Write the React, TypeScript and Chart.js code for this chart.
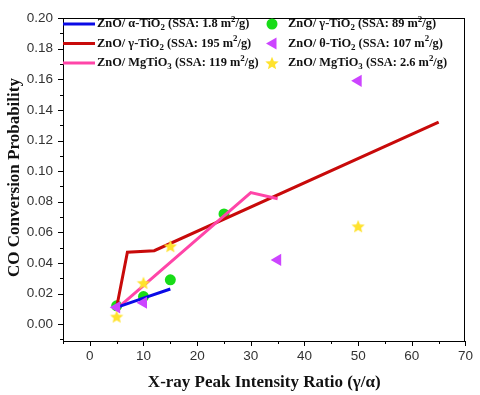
import React, { useEffect, useRef } from 'react';
import { Chart, registerables } from 'chart.js';

Chart.register(...registerables);

// ---- axis ticks ----
const X_TICKS = [0, 10, 20, 30, 40, 50, 60, 70];
const Y_TICKS = [0, 0.02, 0.04, 0.06, 0.08, 0.1, 0.12, 0.14, 0.16, 0.18, 0.2];
const X_MIN = -5;
const X_MAX = 70;
const Y_MIN = -0.011;
const Y_MAX = 0.2;

const X_TITLE = 'X-ray Peak Intensity Ratio (γ/α)';
const Y_TITLE = 'CO Conversion Probability';

// ---- series (line) ----
const alphaX = [5, 10, 15];
const alphaY = [0.011, 0.017, 0.023];
const gamma195X = [5, 7, 12, 65];
const gamma195Y = [0.011, 0.047, 0.048, 0.132];
const mg119X = [5, 30, 35];
const mg119Y = [0.010, 0.086, 0.082];

// ---- series (scatter) ----
const gamma89X = [5, 10, 15, 25];
const gamma89Y = [0.012, 0.018, 0.029, 0.072];
const theta107X = [5, 10, 35, 50];
const theta107Y = [0.011, 0.014, 0.042, 0.159];
const mg26X = [5, 10, 15, 50];
const mg26Y = [0.005, 0.027, 0.051, 0.064];

// ---- legend labels (rich: _{sub}, ^{sup}) ----
const LABELS = [
  'ZnO/ α-TiO_{2} (SSA: 1.8 m^{2}/g)',
  'ZnO/ γ-TiO_{2} (SSA: 195 m^{2}/g)',
  'ZnO/ MgTiO_{3} (SSA: 119 m^{2}/g)',
  'ZnO/ γ-TiO_{2} (SSA: 89 m^{2}/g)',
  'ZnO/ θ-TiO_{2} (SSA: 107 m^{2}/g)',
  'ZnO/ MgTiO_{3} (SSA: 2.6 m^{2}/g)',
];

const BLUE = '#0a0ae6';
const RED = '#c80a0a';
const PINK = '#ff45a8';
const GREEN = '#18dc18';
const PURPLE = '#cc44ff';
const YELLOW = '#ffe22e';

const zip = (xs: number[], ys: number[]) => xs.map((x, i) => ({ x, y: ys[i] }));

function starPath(ctx: CanvasRenderingContext2D, cx: number, cy: number, r: number) {
  const inner = r * 0.45;
  ctx.beginPath();
  for (let i = 0; i < 10; i++) {
    const rr = i % 2 === 0 ? r : inner;
    const a = -Math.PI / 2 + (i * Math.PI) / 5;
    const px = cx + Math.cos(a) * rr;
    const py = cy + Math.sin(a) * rr;
    if (i === 0) ctx.moveTo(px, py);
    else ctx.lineTo(px, py);
  }
  ctx.closePath();
}

function makeStar(r: number, color: string) {
  const c = document.createElement('canvas');
  c.width = c.height = Math.ceil(2 * r + 2);
  const ctx = c.getContext('2d')!;
  starPath(ctx, c.width / 2, c.height / 2 + r * 0.1, r);
  ctx.fillStyle = color;
  ctx.fill();
  return c;
}

function drawRich(ctx: CanvasRenderingContext2D, text: string, x: number, y: number, size: number) {
  const parts = text.split(/(_\{[^}]*\}|\^\{[^}]*\})/).filter(Boolean);
  let cx = x;
  for (const p of parts) {
    let t = p;
    let s = size;
    let dy = 0;
    if (p.startsWith('_{')) {
      t = p.slice(2, -1);
      s = size * 0.72;
      dy = size * 0.32;
    } else if (p.startsWith('^{')) {
      t = p.slice(2, -1);
      s = size * 0.72;
      dy = -size * 0.35;
    }
    ctx.font = `bold ${s}px "Liberation Serif", "DejaVu Serif", serif`;
    ctx.fillText(t, cx, y + dy);
    cx += ctx.measureText(t).width;
  }
}

const decorPlugin = {
  id: 'decor',
  afterDraw(chart: any) {
    const { ctx, chartArea: a, scales } = chart;
    const xs = scales.x;
    const ys = scales.y;
    ctx.save();
    // frame
    ctx.strokeStyle = '#000';
    ctx.lineWidth = 1;
    ctx.strokeRect(Math.round(a.left) + 0.5, Math.round(a.top) + 0.5, Math.round(a.right - a.left) - 1, Math.round(a.bottom - a.top));
    // ticks x
    ctx.beginPath();
    for (let k = -1; k <= 14; k++) {
      const v = k * 5;
      const px = Math.round(xs.getPixelForValue(v)) + 0.5;
      const len = k % 2 === 0 ? 5 : 3;
      ctx.moveTo(px, a.bottom);
      ctx.lineTo(px, a.bottom + len);
    }
    // ticks y
    for (let k = -1; k <= 20; k++) {
      const v = k / 100;
      const py = Math.round(ys.getPixelForValue(v)) + 0.5;
      const len = k % 2 === 0 ? 5 : 3;
      ctx.moveTo(a.left, py);
      ctx.lineTo(a.left - len, py);
    }
    ctx.stroke();

    // axis titles
    ctx.fillStyle = '#111';
    ctx.font = 'bold 17px "Liberation Serif", serif';
    ctx.textAlign = 'center';
    ctx.textBaseline = 'middle';
    ctx.fillText(X_TITLE, (a.left + a.right) / 2, 383);
    ctx.save();
    ctx.translate(15, (a.top + a.bottom) / 2 - 2);
    ctx.rotate(-Math.PI / 2);
    ctx.fillText(Y_TITLE, 0, 0);
    ctx.restore();

    // legend
    ctx.textAlign = 'left';
    ctx.textBaseline = 'middle';
    const rows = [24, 43.5, 63];
    const lineColors = [BLUE, RED, PINK];
    for (let i = 0; i < 3; i++) {
      ctx.strokeStyle = lineColors[i];
      ctx.lineWidth = 3;
      ctx.beginPath();
      ctx.moveTo(a.left, rows[i]);
      ctx.lineTo(a.left + 32, rows[i]);
      ctx.stroke();
      ctx.fillStyle = '#111';
      drawRich(ctx, LABELS[i], a.left + 34, rows[i], 12.4);
    }
    const mx = 272;
    // circle
    ctx.fillStyle = GREEN;
    ctx.beginPath();
    ctx.arc(mx, rows[0], 5.5, 0, Math.PI * 2);
    ctx.fill();
    // triangle left
    ctx.fillStyle = PURPLE;
    ctx.beginPath();
    ctx.moveTo(mx - 6, rows[1]);
    ctx.lineTo(mx + 4.5, rows[1] - 6);
    ctx.lineTo(mx + 4.5, rows[1] + 6);
    ctx.closePath();
    ctx.fill();
    // star
    ctx.fillStyle = YELLOW;
    starPath(ctx, mx, rows[2] + 0.7, 7);
    ctx.fill();
    ctx.fillStyle = '#111';
    for (let i = 3; i < 6; i++) {
      drawRich(ctx, LABELS[i], 288, rows[i - 3], 12.4);
    }
    ctx.restore();
  },
};

export default function App() {
  const ref = useRef<HTMLCanvasElement>(null);
  useEffect(() => {
    const starImg = makeStar(7, YELLOW);
    const chart = new Chart(ref.current!, {
      type: 'scatter',
      data: {
        datasets: [
          { label: 'ZnO/ α-TiO2 (SSA: 1.8 m2/g)', data: zip(alphaX, alphaY), showLine: true, borderColor: BLUE, borderWidth: 3, pointRadius: 0, order: 2 },
          { label: 'ZnO/ γ-TiO2 (SSA: 195 m2/g)', data: zip(gamma195X, gamma195Y), showLine: true, borderColor: RED, borderWidth: 3, pointRadius: 0, order: 3 },
          { label: 'ZnO/ MgTiO3 (SSA: 119 m2/g)', data: zip(mg119X, mg119Y), showLine: true, borderColor: PINK, borderWidth: 3, pointRadius: 0, order: 2 },
          { label: 'ZnO/ γ-TiO2 (SSA: 89 m2/g)', data: zip(gamma89X, gamma89Y), backgroundColor: GREEN, borderWidth: 0, pointRadius: 5.5, pointStyle: 'circle', order: 4 },
          { label: 'ZnO/ θ-TiO2 (SSA: 107 m2/g)', data: zip(theta107X, theta107Y), backgroundColor: PURPLE, borderWidth: 0, pointRadius: 7, pointStyle: 'triangle', rotation: -90, order: 1 },
          { label: 'ZnO/ MgTiO3 (SSA: 2.6 m2/g)', data: zip(mg26X, mg26Y), pointStyle: starImg as any, pointRadius: 7, order: 1 },
        ] as any,
      },
      options: {
        responsive: false,
        animation: false,
        devicePixelRatio: 1,
        layout: { padding: { left: 0, top: 14, right: 12, bottom: 0 } },
        plugins: { legend: { display: false }, tooltip: { enabled: false } },
        scales: {
          x: {
            type: 'linear',
            min: X_MIN,
            max: X_MAX,
            grid: { display: false, drawTicks: false },
            border: { display: false },
            ticks: { padding: 7, color: '#333', font: { family: '"Liberation Sans", Arial, sans-serif', size: 13.5 } },
            afterBuildTicks: (s: any) => { s.ticks = X_TICKS.map((value) => ({ value })); },
            afterFit: (s: any) => { s.height = 54; },
          },
          y: {
            type: 'linear',
            min: Y_MIN,
            max: Y_MAX,
            grid: { display: false, drawTicks: false },
            border: { display: false },
            ticks: {
              padding: 10,
              color: '#333',
              font: { family: '"Liberation Sans", Arial, sans-serif', size: 13.5 },
              callback: (v: any) => Number(v).toFixed(2),
            },
            afterBuildTicks: (s: any) => { s.ticks = Y_TICKS.map((value) => ({ value })); },
            afterFit: (s: any) => { s.width = 63; },
          },
        },
      } as any,
      plugins: [decorPlugin],
    });
    return () => chart.destroy();
  }, []);
  return (
    <div style={{ position: 'absolute', left: 0, top: 0, width: 480, height: 395, background: '#fff' }}>
      <canvas ref={ref} width={480} height={395} style={{ display: 'block' }} />
    </div>
  );
}
